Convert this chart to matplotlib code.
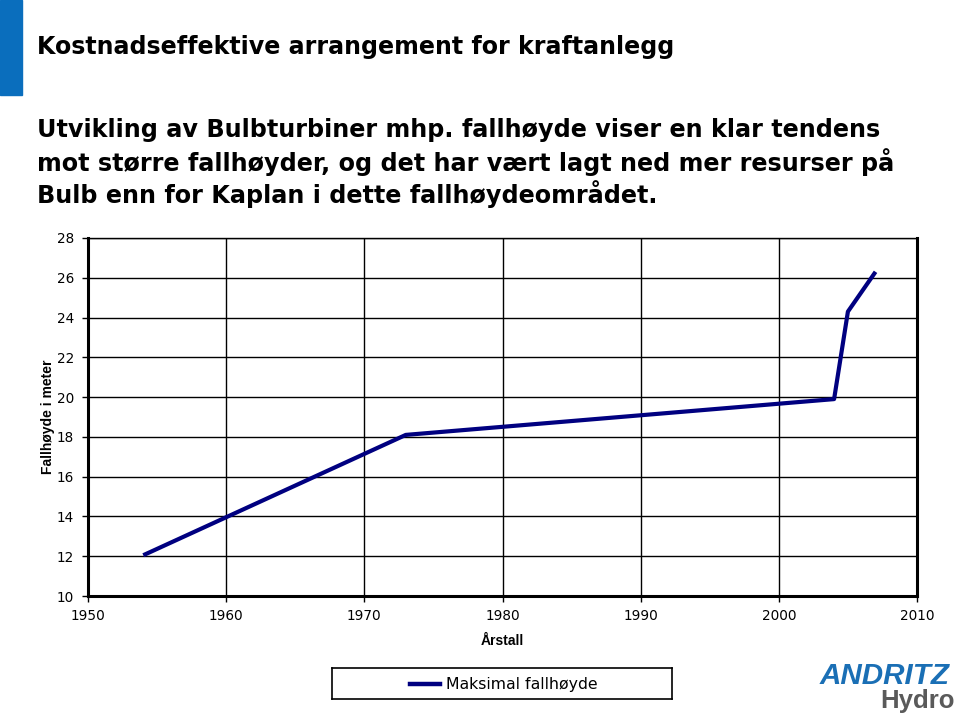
import matplotlib
matplotlib.use("Agg")
import matplotlib.pyplot as plt
from matplotlib.patches import Rectangle

years = [1954, 1973, 2004, 2005, 2007]
heights = [12.05, 18.1, 19.9, 24.3, 26.3]
xticks = [1950, 1960, 1970, 1980, 1990, 2000, 2010]
yticks = [10, 12, 14, 16, 18, 20, 22, 24, 26, 28]

title = "Kostnadseffektive arrangement for kraftanlegg"
subtitle = ["Utvikling av Bulbturbiner mhp. fallhøyde viser en klar tendens",
            "mot større fallhøyder, og det har vært lagt ned mer resurser på",
            "Bulb enn for Kaplan i dette fallhøydeområdet."]
series_name = "Maksimal fallhøyde"
xlabel = "Årstall"
ylabel = "Fallhøyde i meter"

W, H = 960, 716
fig = plt.figure(figsize=(W/100, H/100), dpi=100)

def fx(px): return px / W
def fy(py): return 1 - py / H

# blue bar top-left
fig.patches.append(Rectangle((0, fy(95)), fx(22), 95/H, transform=fig.transFigure,
                             color="#0a6ebd", zorder=0))

fig.text(fx(37), fy(47), title, fontsize=17.1, fontweight="bold", family="DejaVu Sans",
         va="center", ha="left")
for i, line in enumerate(subtitle):
    fig.text(fx(37), fy(130 + 32*i), line, fontsize=17.2, fontweight="bold",
             family="DejaVu Sans", va="center", ha="left")

ax = fig.add_axes([fx(88), fy(596), fx(917) - fx(88), (596 - 238)/H])
ax.plot(years, heights, color="#000080", lw=3.0, solid_capstyle="butt", zorder=3)
ax.set_xlim(1950, 2010)
ax.set_ylim(10, 28)
ax.set_xticks(xticks)
ax.set_yticks(yticks)
ax.grid(True, color="black", lw=1.0)
ax.set_axisbelow(True)
for s in ["left", "bottom", "right"]:
    ax.spines[s].set_linewidth(2.2)
ax.spines["top"].set_linewidth(1.0)
ax.tick_params(axis="both", labelsize=9.8, length=4, width=1, color="black")
ax.tick_params(axis="y", pad=6)
ax.tick_params(axis="x", pad=5)
for lab in ax.get_xticklabels() + ax.get_yticklabels():
    lab.set_family("DejaVu Sans")
ax.set_xlabel(xlabel, fontsize=10, fontweight="bold", family="Liberation Sans", labelpad=8)
ax.set_ylabel(ylabel, fontsize=10, fontweight="bold", family="Liberation Sans", labelpad=1)

# legend box
lax = fig.add_axes([fx(332), fy(699), fx(672) - fx(332), (699 - 668)/H])
lax.set_xticks([]); lax.set_yticks([])
lax.set_xlim(0, 340); lax.set_ylim(0, 31)
for s in lax.spines.values():
    s.set_linewidth(1.2)
lax.plot([78, 108], [15.5, 15.5], color="#000080", lw=3.2)
lax.text(114, 14, series_name, fontsize=11.3, family="DejaVu Sans", va="center", ha="left")

# logo
fig.text(fx(820), fy(676), "ANDRITZ", fontsize=21.3, fontweight="bold", style="italic",
         family="Liberation Sans", color="#1a6fb5", va="center", ha="left")
fig.text(fx(955), fy(701), "Hydro", fontsize=18.5, fontweight="bold",
         family="Liberation Sans", color="#5a5a5a", va="center", ha="right")

fig.savefig("out.png", dpi=100)
